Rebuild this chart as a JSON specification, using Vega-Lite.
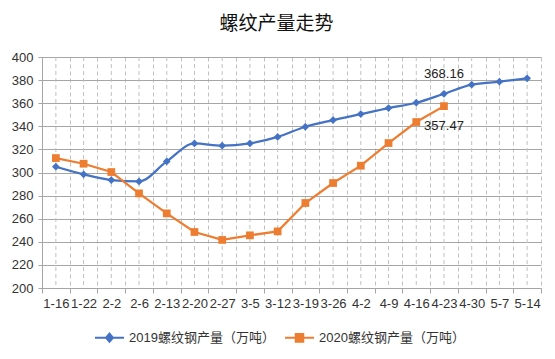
{
  "$schema": "https://vega.github.io/schema/vega-lite/v6.json",
  "width": 499,
  "height": 231,
  "autosize": "none",
  "padding": {"left": 42, "top": 57, "right": 14, "bottom": 71},
  "background": "#ffffff",
  "config": {
    "view": {"stroke": null},
    "font": "Liberation Sans, Noto Sans CJK SC",
    "axis": {"labelFont": "Liberation Sans, Noto Sans CJK SC", "labelColor": "#333333"}
  },
  "title": {
    "text": "螺纹产量走势",
    "font": "Noto Sans CJK SC",
    "fontSize": 19,
    "fontWeight": "normal",
    "color": "#111111",
    "anchor": "middle",
    "frame": "group",
    "dx": -15,
    "offset": 17
  },
  "data": {
    "values": [
      {"date": "1-16", "series": "2019螺纹钢产量（万吨）", "value": 305.0},
      {"date": "1-22", "series": "2019螺纹钢产量（万吨）", "value": 298.4},
      {"date": "2-2", "series": "2019螺纹钢产量（万吨）", "value": 293.5},
      {"date": "2-6", "series": "2019螺纹钢产量（万吨）", "value": 292.3},
      {"date": "2-13", "series": "2019螺纹钢产量（万吨）", "value": 309.6},
      {"date": "2-20", "series": "2019螺纹钢产量（万吨）", "value": 325.2},
      {"date": "2-27", "series": "2019螺纹钢产量（万吨）", "value": 323.2},
      {"date": "3-5", "series": "2019螺纹钢产量（万吨）", "value": 325.2},
      {"date": "3-12", "series": "2019螺纹钢产量（万吨）", "value": 330.8},
      {"date": "3-19", "series": "2019螺纹钢产量（万吨）", "value": 339.6},
      {"date": "3-26", "series": "2019螺纹钢产量（万吨）", "value": 345.4},
      {"date": "4-2", "series": "2019螺纹钢产量（万吨）", "value": 350.6},
      {"date": "4-9", "series": "2019螺纹钢产量（万吨）", "value": 355.8},
      {"date": "4-16", "series": "2019螺纹钢产量（万吨）", "value": 360.4},
      {"date": "4-23", "series": "2019螺纹钢产量（万吨）", "value": 368.16},
      {"date": "4-30", "series": "2019螺纹钢产量（万吨）", "value": 376.0},
      {"date": "5-7", "series": "2019螺纹钢产量（万吨）", "value": 378.6},
      {"date": "5-14", "series": "2019螺纹钢产量（万吨）", "value": 381.5},
      {"date": "1-16", "series": "2020螺纹钢产量（万吨）", "value": 312.5},
      {"date": "1-22", "series": "2020螺纹钢产量（万吨）", "value": 307.6},
      {"date": "2-2", "series": "2020螺纹钢产量（万吨）", "value": 300.4},
      {"date": "2-6", "series": "2020螺纹钢产量（万吨）", "value": 281.9},
      {"date": "2-13", "series": "2020螺纹钢产量（万吨）", "value": 264.6},
      {"date": "2-20", "series": "2020螺纹钢产量（万吨）", "value": 248.5},
      {"date": "2-27", "series": "2020螺纹钢产量（万吨）", "value": 241.6},
      {"date": "3-5", "series": "2020螺纹钢产量（万吨）", "value": 245.6},
      {"date": "3-12", "series": "2020螺纹钢产量（万吨）", "value": 249.0},
      {"date": "3-19", "series": "2020螺纹钢产量（万吨）", "value": 273.6},
      {"date": "3-26", "series": "2020螺纹钢产量（万吨）", "value": 290.9},
      {"date": "4-2", "series": "2020螺纹钢产量（万吨）", "value": 305.9},
      {"date": "4-9", "series": "2020螺纹钢产量（万吨）", "value": 325.5},
      {"date": "4-16", "series": "2020螺纹钢产量（万吨）", "value": 343.7},
      {"date": "4-23", "series": "2020螺纹钢产量（万吨）", "value": 357.47}
    ]
  },
  "encoding": {
    "x": {
      "field": "date",
      "type": "nominal",
      "sort": ["1-16","1-22","2-2","2-6","2-13","2-20","2-27","3-5","3-12","3-19","3-26","4-2","4-9","4-16","4-23","4-30","5-7","5-14"],
      "scale": {"type": "band", "paddingInner": 0, "paddingOuter": 0},
      "bandPosition": 0.5,
      "axis": {
        "title": null,
        "labelAngle": 0,
        "labelFontSize": 13,
        "labelOverlap": false,
        "labelBound": false,
        "labelPadding": 4,
        "tickBand": "extent",
        "tickSize": 5,
        "tickColor": "#a6a6a6",
        "domainColor": "#a6a6a6",
        "grid": true,
        "gridColor": "#c0c0c0",
        "gridDash": [4, 3],
        "gridWidth": 1
      }
    },
    "y": {
      "field": "value",
      "type": "quantitative",
      "scale": {"domain": [200, 400], "nice": false, "zero": false},
      "axis": {
        "title": null,
        "values": [200,220,240,260,280,300,320,340,360,380,400],
        "labelFontSize": 13,
        "labelPadding": 5,
        "tickSize": 4,
        "tickColor": "#a6a6a6",
        "domainColor": "#a6a6a6",
        "gridColor": "#a6a6a6",
        "gridWidth": 1
      }
    }
  },
  "layer": [
    {
      "transform": [{"filter": "datum.series == '2019螺纹钢产量（万吨）'"}],
      "mark": {"type": "rule", "stroke": "#c0c0c0", "strokeDash": [4, 3], "strokeWidth": 1},
      "encoding": {"y": null}
    },
    {
      "transform": [{"filter": "datum.series == '2019螺纹钢产量（万吨）'"}],
      "mark": {"type": "line", "interpolate": "monotone", "strokeWidth": 2.25},
      "encoding": {
        "color": {
          "field": "series",
          "type": "nominal",
          "scale": {"domain": ["2019螺纹钢产量（万吨）", "2020螺纹钢产量（万吨）"], "range": ["#4472C4", "#ED7D31"]},
          "legend": {
            "title": null,
            "orient": "none",
            "direction": "horizontal",
            "legendX": 52,
            "legendY": 265,
            "labelFontSize": 13,
            "labelColor": "#333333",
            "labelFont": "Liberation Sans, Noto Sans CJK SC",
            "symbolSize": 841,
            "symbolStrokeWidth": 2,
            "labelOffset": 4,
            "columnPadding": 6,
            "encode": {
              "symbols": {
                "update": {
                  "shape": {"signal": "datum.value == '2019螺纹钢产量（万吨）' ? 'M-1,0H1M0,-0.28L0.24,0L0,0.28L-0.24,0Z' : 'M-1,0H1M-0.26,-0.26H0.26V0.26H-0.26Z'"},
                  "fill": {"signal": "datum.value == '2019螺纹钢产量（万吨）' ? '#4472C4' : '#ED7D31'"},
                  "stroke": {"signal": "datum.value == '2019螺纹钢产量（万吨）' ? '#4472C4' : '#ED7D31'"},
                  "opacity": {"value": 1},
                  "fillOpacity": {"value": 1},
                  "strokeOpacity": {"value": 1}
                }
              }
            }
          }
        }
      }
    },
    {
      "transform": [{"filter": "datum.series == '2020螺纹钢产量（万吨）'"}],
      "mark": {"type": "line", "interpolate": "linear", "strokeWidth": 2.25},
      "encoding": {"color": {"field": "series", "type": "nominal"}}
    },
    {
      "transform": [{"filter": "datum.series == '2019螺纹钢产量（万吨）'"}],
      "mark": {"type": "point", "shape": "diamond", "filled": true, "size": 60, "opacity": 1},
      "encoding": {"color": {"field": "series", "type": "nominal"}}
    },
    {
      "transform": [{"filter": "datum.series == '2020螺纹钢产量（万吨）'"}],
      "mark": {"type": "point", "shape": "square", "filled": true, "size": 60, "opacity": 1},
      "encoding": {"color": {"field": "series", "type": "nominal"}}
    },
    {
      "transform": [{"filter": "datum.series == '2019螺纹钢产量（万吨）' && datum.date == '4-23'"}],
      "mark": {"type": "text", "dy": -20, "fontSize": 13, "color": "#222222", "font": "Liberation Sans"},
      "encoding": {"text": {"field": "value", "type": "quantitative", "format": ".2f"}}
    },
    {
      "transform": [{"filter": "datum.series == '2020螺纹钢产量（万吨）' && datum.date == '4-23'"}],
      "mark": {"type": "text", "dy": 20, "fontSize": 13, "color": "#222222", "font": "Liberation Sans"},
      "encoding": {"text": {"field": "value", "type": "quantitative", "format": ".2f"}}
    }
  ]
}
